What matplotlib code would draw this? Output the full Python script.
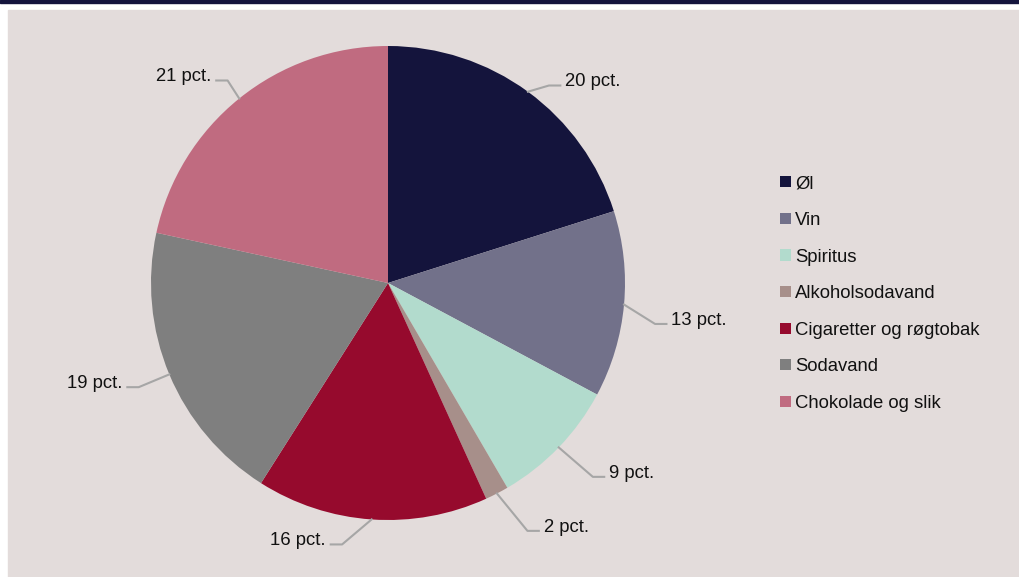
import numpy as np
import matplotlib.pyplot as plt
from matplotlib.patches import Rectangle

plt.rcParams['font.family'] = ['Liberation Sans', 'DejaVu Sans']

categories = ['Øl', 'Vin', 'Spiritus', 'Alkoholsodavand',
              'Cigaretter og røgtobak', 'Sodavand', 'Chokolade og slik']
values = [20.1, 12.7, 8.8, 1.6, 15.8, 19.4, 21.6]
labels = ['20 pct.', '13 pct.', '9 pct.', '2 pct.', '16 pct.', '19 pct.', '21 pct.']
colors = ['#14143c', '#72718a', '#b2dbcd', '#a78f8a', '#960a2d', '#7f7f7f', '#c06b80']

# leader-line elbow placement (radius factor, clockwise angle nudge in degrees)
elbow_r = [1.075, 1.14, 1.19, 1.20, 1.12, 1.14, 1.09]
elbow_da = [3, 3.5, -0.5, -2, 6, 0, 0.5]

W, H = 1020, 577
fig = plt.figure(figsize=(W / 100, H / 100), dpi=100, facecolor='white')

# background panel and top bar
fig.patches.append(Rectangle((8 / W, 0), 1 - 8 / W, (H - 10) / H,
                             transform=fig.transFigure, color='#e3dcdb', zorder=-2))
fig.patches.append(Rectangle((0, (H - 3) / H), 1, 3 / H,
                             transform=fig.transFigure, color='#14143c', zorder=-2))

# pie centre (388, 283) px, radius 237 px
lim = 1.3
half = 237 * lim
ax = fig.add_axes([(388 - half) / W, (H - 283 - half) / H, 2 * half / W, 2 * half / H])
ax.axis('off')
ax.patch.set_alpha(0)

wedges, _ = ax.pie(values, colors=colors, startangle=90, counterclock=False,
                   radius=1.0, wedgeprops=dict(linewidth=0))
ax.set_xlim(-lim, lim)
ax.set_ylim(-lim, lim)
ax.set_aspect('equal')

for w, lab, r, da in zip(wedges, labels, elbow_r, elbow_da):
    mid = (w.theta1 + w.theta2) / 2
    ang = np.deg2rad(mid)
    x0, y0 = np.cos(ang), np.sin(ang)
    ang1 = np.deg2rad(mid - da)
    x1, y1 = r * np.cos(ang1), r * np.sin(ang1)
    sgn = 1 if x0 >= 0 else -1
    x2 = x1 + sgn * 0.048
    ax.plot([x0, x1, x2], [y0, y1, y1], color='#a6a6a6', lw=1.5, clip_on=False)
    ax.text(x2 + sgn * 0.02, y1 + 0.016, lab, ha='left' if sgn > 0 else 'right',
            va='center', fontsize=13.3, color='#111111')

leg = fig.legend(wedges, categories, loc='upper left', bbox_to_anchor=(773 / W, 1 - 168 / H),
                 frameon=False, fontsize=13.3, handlelength=0.55, handleheight=0.55,
                 handletextpad=0.25, labelspacing=1.06, borderaxespad=0)
for t in leg.get_texts():
    t.set_color('#111111')

fig.savefig('out.png', dpi=100, facecolor='white')
